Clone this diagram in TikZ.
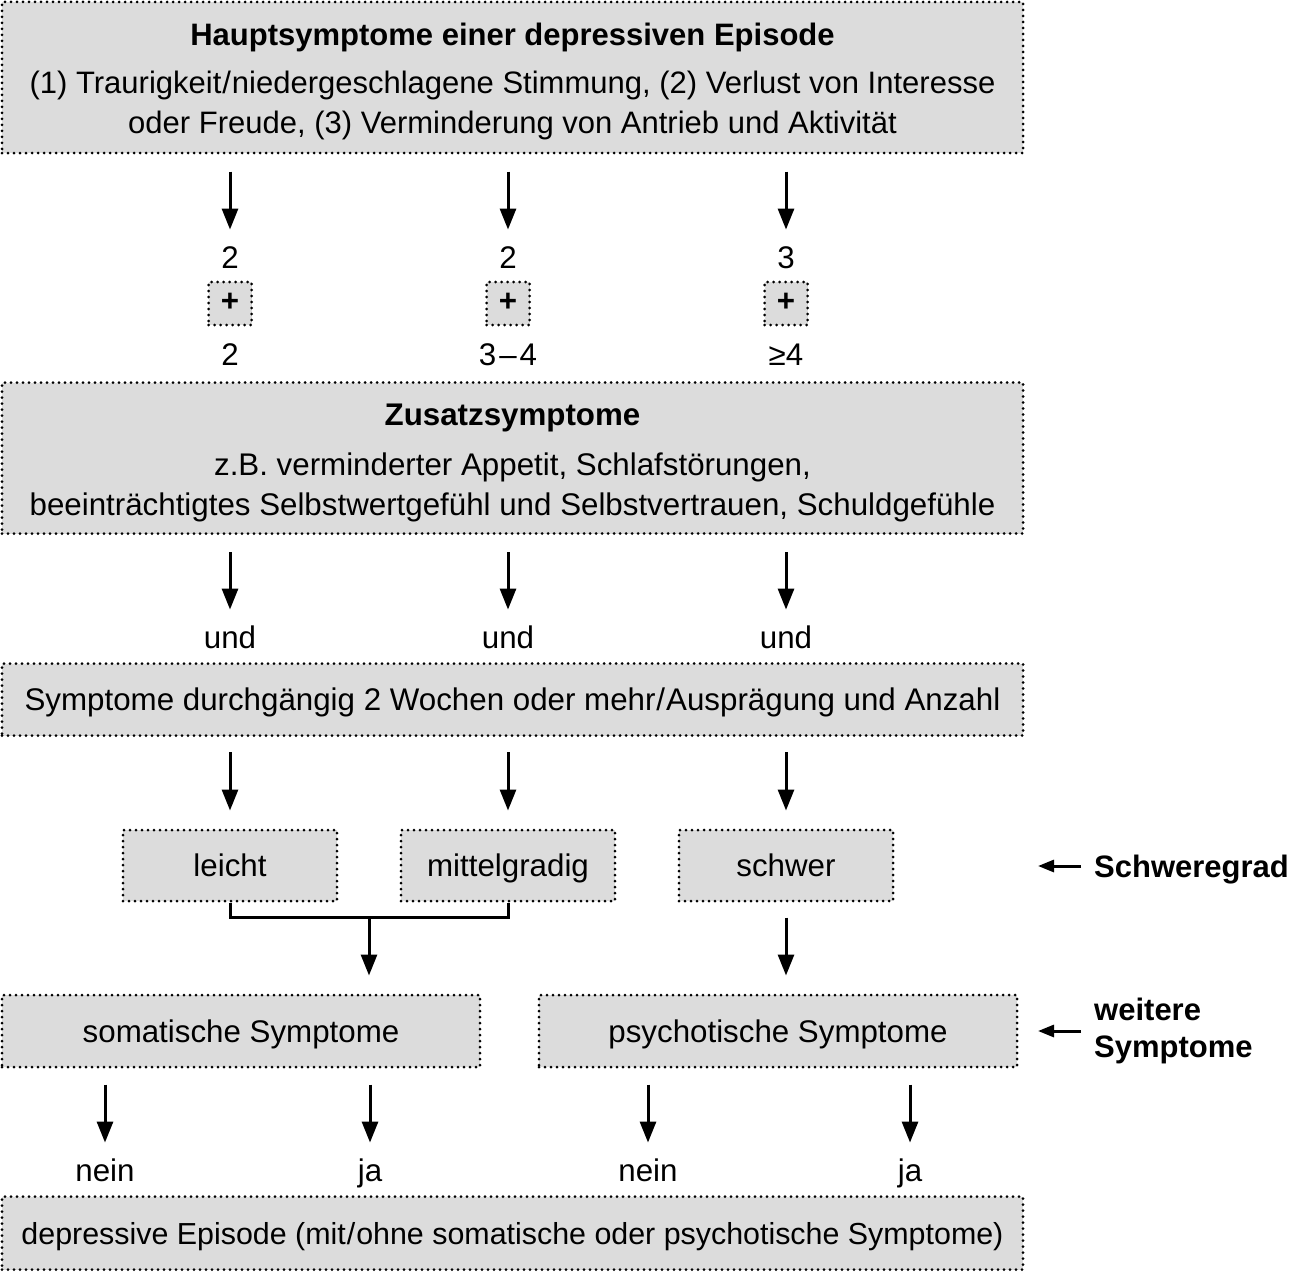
\documentclass[tikz,border=0pt]{standalone}
\usepackage{fontspec}
\setmainfont{Liberation Sans}
\usetikzlibrary{arrows.meta,calc}
\definecolor{boxgray}{RGB}{220,220,220}
\newcommand\myfs{\fontsize{31.3}{40}\selectfont}
\tikzset{
  box/.style={draw, line width=3pt, dash pattern=on 0pt off 6pt, line cap=round,
    fill=boxgray, inner sep=0pt, font=\myfs},
  onebox/.style={box, text height=22.5pt, text depth=0pt},
  arr/.style={line width=3pt, -{Triangle[length=21pt,width=16pt]}},
  sarr/.style={line width=3pt, -{Triangle[length=16pt,width=12pt]}},
  lbl/.style={inner sep=2pt, font=\myfs, text height=22.5pt, text depth=0pt},
}
\begin{document}
\begin{tikzpicture}[x=1pt,y=-1pt]
\useasboundingbox (0,0) rectangle (1289,1271);
% main boxes
\node[box, align=center, minimum width=1021pt, minimum height=151pt, font=\fontsize{31}{40}\selectfont] (top) at (512.5,77.5)
  {\rule{0pt}{31pt}{\bfseries Hauptsymptome einer depressiven Episode}\\[8pt]
   (1) Traurigkeit\kern1pt/\kern1pt niedergeschlagene Stimmung, (2) Verlust von Interesse\\
   oder Freude, (3) Verminderung von Antrieb und Aktivität};
\node[lbl] (a1) at (230,257) {2};
\node[lbl] (a2) at (508,257) {2};
\node[lbl] (a3) at (786,257) {3};
\node[onebox, minimum width=43pt, minimum height=43pt, font=\myfs\bfseries, text height=16pt] (p1) at (230,303.5) {+};
\node[onebox, minimum width=43pt, minimum height=43pt, font=\myfs\bfseries, text height=16pt] (p2) at (508,303.5) {+};
\node[onebox, minimum width=43pt, minimum height=43pt, font=\myfs\bfseries, text height=16pt] (p3) at (786,303.5) {+};
\node[lbl] (b1) at (230,354) {2};
\node[lbl] (b2) at (508,354) {3\kern3pt–\kern3pt4};
\node[lbl] (b3) at (786,354) {≥4};
\node[box, align=center, minimum width=1021pt, minimum height=151pt] (zus) at (512.5,458)
  {\rule{0pt}{32pt}{\bfseries Zusatzsymptome}\\[10pt]
   z.B. verminderter Appetit, Schlafstörungen,\\
   beeinträchtigtes Selbstwertgefühl und Selbstvertrauen, Schuldgefühle};
\node[lbl] (u1) at (230,637) {und};
\node[lbl] (u2) at (508,637) {und};
\node[lbl] (u3) at (786,637) {und};
\node[onebox, minimum width=1021pt, minimum height=72pt] (sym) at (512.5,699.5)
  {Symptome durchgängig 2 Wochen oder mehr\kern1pt/\kern1pt Ausprägung und Anzahl};
\node[onebox, minimum width=214pt, minimum height=71pt] (le) at (230,865.5) {leicht};
\node[onebox, minimum width=214pt, minimum height=71pt] (mi) at (508,865.5) {mittelgradig};
\node[onebox, minimum width=214pt, minimum height=71pt] (sc) at (786,865.5) {schwer};
\node[onebox, minimum width=478pt, minimum height=72pt] (so) at (241,1031) {somatische Symptome};
\node[onebox, minimum width=478pt, minimum height=72pt] (ps) at (778,1031) {psychotische Symptome};
\node[lbl] (n1) at (105,1170) {nein};
\node[lbl] (j1) at (370,1170) {ja};
\node[lbl] (n2) at (648,1170) {nein};
\node[lbl] (j2) at (910,1170) {ja};
\node[onebox, minimum width=1021pt, minimum height=73pt, font=\fontsize{30.4}{40}\selectfont] (fin) at (512.5,1233)
  {depressive Episode (mit\kern1pt/\kern1pt ohne somatische oder psychotische Symptome)};
% side labels
\node[lbl, anchor=west, font=\fontsize{31}{37}\selectfont\bfseries] (sg) at (1092,866) {Schweregrad};
\node[inner sep=2pt, anchor=west, align=left, font=\fontsize{31}{37}\selectfont\bfseries] (ws) at (1092,1031) {weitere\\Symptome};
\coordinate (sgt) at (1038,866);
\coordinate (wst) at (1038,1031);
\draw[sarr, shorten <=11pt] (sg.west) -- (sgt);
\draw[sarr, shorten <=11pt] (ws.west |- wst) -- (wst);
% arrows top -> numbers
\foreach \n in {a1,a2,a3}
  \draw[arr, shorten <=17pt, shorten >=14pt] (top.south -| \n) -- (\n.north);
\foreach \n in {u1,u2,u3}
  \draw[arr, shorten <=17pt, shorten >=14pt] (zus.south -| \n) -- (\n.north);
\draw[arr, shorten <=15pt, shorten >=18pt] (sym.south -| le) -- (le.north);
\draw[arr, shorten <=15pt, shorten >=18pt] (sym.south -| mi) -- (mi.north);
\draw[arr, shorten <=15pt, shorten >=18pt] (sym.south -| sc) -- (sc.north);
% bracket
\coordinate (jn) at ([yshift=-15pt]$(le.south)!0.5!(mi.south)$);
\draw[line width=3pt] (le.south) |- (jn) -| (mi.south);
\draw[arr, shorten >=18pt] (jn) -- (jn |- so.north);
\draw[arr, shorten <=15pt, shorten >=18pt] (sc.south) -- (sc.south |- ps.north);
% bottom arrows
\draw[arr, shorten <=16pt, shorten >=14pt] (so.south -| n1) -- (n1.north);
\draw[arr, shorten <=16pt, shorten >=14pt] (so.south -| j1) -- (j1.north);
\draw[arr, shorten <=16pt, shorten >=14pt] (ps.south -| n2) -- (n2.north);
\draw[arr, shorten <=16pt, shorten >=14pt] (ps.south -| j2) -- (j2.north);
\end{tikzpicture}
\end{document}
